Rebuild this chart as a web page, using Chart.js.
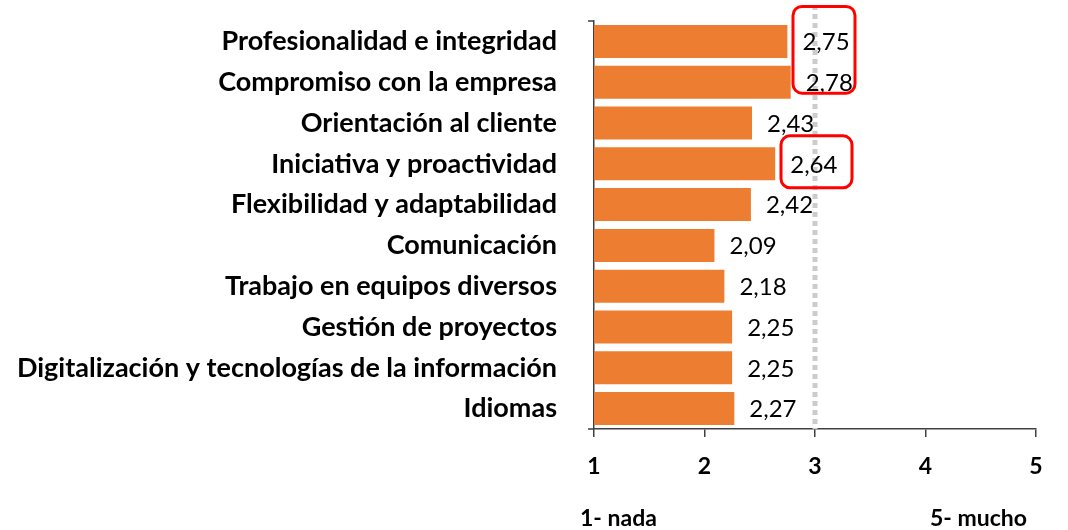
<!DOCTYPE html>
<html>
<head>
<meta charset="utf-8">
<script src="https://cdn.jsdelivr.net/npm/chart.js@4/dist/chart.umd.min.js"></script>
<style>
  html, body { margin: 0; padding: 0; background: #fff; }
  #wrap { width: 1068px; height: 530px; }
</style>
</head>
<body>
<div id="wrap"><canvas id="chart" width="1068" height="530"></canvas></div>
<script>
const categories = [
  "Profesionalidad e integridad",
  "Compromiso con la empresa",
  "Orientación al cliente",
  "Iniciativa y proactividad",
  "Flexibilidad y adaptabilidad",
  "Comunicación",
  "Trabajo en equipos diversos",
  "Gestión de proyectos",
  "Digitalización y tecnologías de la información",
  "Idiomas"
];
const scores = [2.75, 2.78, 2.43, 2.64, 2.42, 2.09, 2.18, 2.25, 2.25, 2.27];
const scaleTicks = [1, 2, 3, 4, 5];
const scaleNotes = ["1- nada", "5- mucho"];
const midValue = 3;
// groups of rows highlighted with a red frame
const highlighted = [[0, 1], [3, 3]];

const FONT = "Lato, 'Open Sans', sans-serif";

const overlay = {
  id: "overlay",
  afterDatasetsDraw(chart) {
    const ctx = chart.ctx;
    const x = chart.scales.x;
    const y = chart.scales.y;
    const area = chart.chartArea;
    const meta = chart.getDatasetMeta(0);

    // dashed reference line at 3
    const mx = x.getPixelForValue(midValue);
    ctx.save();
    ctx.strokeStyle = "#cccccc";
    ctx.lineWidth = 5;
    ctx.setLineDash([5, 4]);
    ctx.beginPath();
    ctx.moveTo(mx, area.top - 16);
    ctx.lineTo(mx, area.bottom);
    ctx.stroke();
    ctx.restore();

    // value labels
    ctx.save();
    ctx.font = "24px " + FONT;
    ctx.fillStyle = "#000";
    ctx.textAlign = "left";
    ctx.textBaseline = "middle";
    meta.data.forEach((bar, i) => {
      ctx.fillText(scores[i].toFixed(2).replace(".", ","), bar.x + 15, bar.y + 1);
    });
    ctx.restore();

    // red frames
    ctx.save();
    ctx.strokeStyle = "#ff0000";
    ctx.lineWidth = 3;
    highlighted.forEach(([a, b]) => {
      const single = a === b;
      const t = y.getPixelForValue(a) - (single ? 28 : 35);
      const bt = y.getPixelForValue(b) + (single ? 24 : 11);
      const x0 = mx - (single ? 34 : 22);
      const x1 = mx + (single ? 37 : 40);
      ctx.beginPath();
      ctx.roundRect(x0, t, x1 - x0, bt - t, 9);
      ctx.stroke();
    });
    ctx.restore();

    // small ticks on the category axis ends
    ctx.save();
    ctx.strokeStyle = "#404040";
    ctx.lineWidth = 1.5;
    ctx.beginPath();
    ctx.moveTo(area.left - 6, area.top);
    ctx.lineTo(area.left, area.top);
    ctx.moveTo(area.left - 6, area.bottom);
    ctx.lineTo(area.left, area.bottom);
    ctx.stroke();
    ctx.restore();

    // scale notes under the axis
    ctx.save();
    ctx.font = "bold 23px " + FONT;
    ctx.fillStyle = "#000";
    ctx.textBaseline = "middle";
    ctx.textAlign = "left";
    ctx.fillText(scaleNotes[0], x.getPixelForValue(scaleTicks[0]) - 14, 519);
    ctx.textAlign = "right";
    ctx.fillText(scaleNotes[1], x.getPixelForValue(scaleTicks[scaleTicks.length - 1]) - 9, 519);
    ctx.restore();
  }
};

new Chart(document.getElementById("chart"), {
  type: "bar",
  data: {
    labels: categories,
    datasets: [{
      data: scores.map(v => [1, v]),
      backgroundColor: "#ED7D31",
      borderWidth: 0,
      barPercentage: 0.81,
      categoryPercentage: 1
    }]
  },
  options: {
    indexAxis: "y",
    responsive: false,
    animation: false,
    layout: { padding: { top: 21, right: 32, left: 0, bottom: 0 } },
    plugins: {
      legend: { display: false },
      tooltip: { enabled: false }
    },
    scales: {
      x: {
        min: 1,
        max: 5,
        afterFit(scale) { scale.height = 101; },
        afterBuildTicks(scale) { scale.ticks = scaleTicks.map(v => ({ value: v })); },
        grid: {
          drawOnChartArea: false,
          drawTicks: true,
          tickLength: 8,
          color: "#404040",
          lineWidth: 1.5
        },
        border: { display: true, color: "#404040", width: 1.5 },
        ticks: {
          color: "#000",
          padding: 16,
          font: { family: FONT, size: 23, weight: "bold" }
        }
      },
      y: {
        afterFit(scale) {
          scale.width = 594;
          scale.paddingTop = 0;
          scale.paddingBottom = 0;
        },
        grid: { display: false },
        border: { display: true, color: "#404040", width: 1.5 },
        ticks: {
          color: "#000",
          padding: 29,
          font: { family: FONT, size: 27, weight: "bold" }
        }
      }
    }
  },
  plugins: [overlay]
});
</script>
</body>
</html>
